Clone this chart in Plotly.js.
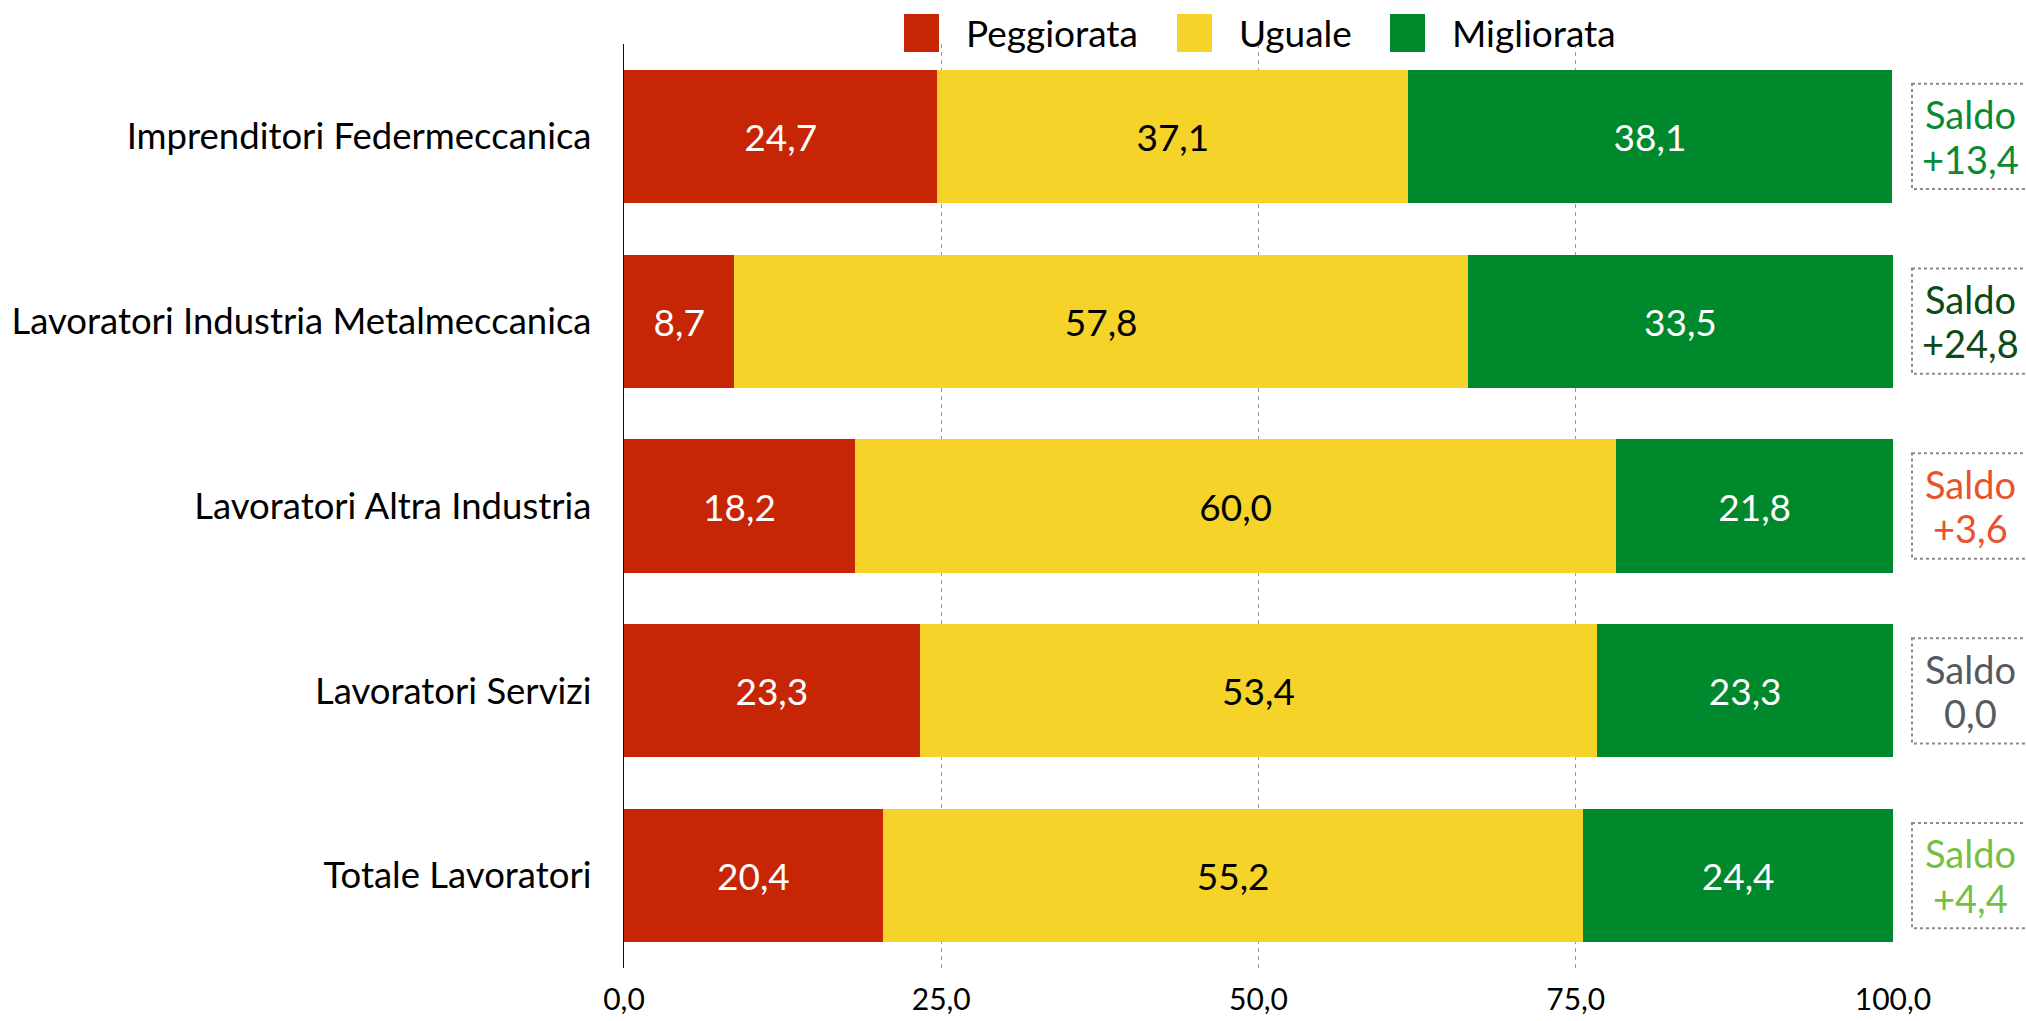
<!DOCTYPE html>
<html>
<head>
<meta charset="utf-8">
<script src="https://cdn.plot.ly/plotly-3.0.1.min.js"></script>
<style>html,body{margin:0;padding:0;background:#fff;}#chart{width:2026px;height:1021px;}</style>
</head>
<body>
<div id="chart"></div>
<script>
const categories = [
  "Imprenditori Federmeccanica",
  "Lavoratori Industria Metalmeccanica",
  "Lavoratori Altra Industria",
  "Lavoratori Servizi",
  "Totale Lavoratori"
];
const seriesNames = ["Peggiorata", "Uguale", "Migliorata"];
const peggiorata = [24.7, 8.7, 18.2, 23.3, 20.4];
const uguale = [37.1, 57.8, 60.0, 53.4, 55.2];
const migliorata = [38.1, 33.5, 21.8, 23.3, 24.4];
const saldo = [13.4, 24.8, 3.6, 0.0, 4.4];
const tickValues = [0, 25, 50, 75, 100];

const seriesColors = ["#c62506", "#f5d329", "#00882c"];
const textColors = ["#ffffff", "#000000", "#ffffff"];
const saldoColors = ["#0a8a34", "#0c4a16", "#e8522c", "#555a61", "#74bf44"];
const FONT = "Lato, 'Open Sans', sans-serif";

const seriesValues = [peggiorata, uguale, migliorata];
const traces = seriesValues.map((vals, i) => ({
  type: "bar",
  orientation: "h",
  name: seriesNames[i],
  x: vals,
  y: categories,
  marker: {color: seriesColors[i], line: {width: 0}},
  texttemplate: "%{x:.1f}",
  textposition: "inside",
  insidetextanchor: "middle",
  constraintext: "none",
  textfont: {family: FONT, size: 37, color: textColors[i]},
  hoverinfo: "x+y+name",
  showlegend: false
}));

function fmtSaldo(v) {
  return (v > 0 ? "+" : "") + v.toFixed(1).replace(".", ",");
}

// plot-area geometry in pixels (for converting overlay positions to paper units)
const PL = 624, PW = 1269, PT = 44, PH = 924;
const px2x = p => (p - PL) / PW;
const px2y = p => (PT + PH - p) / PH;

const shapes = [];
const annotations = [];
// Saldo boxes
categories.forEach((c, i) => {
  shapes.push({
    type: "rect", xref: "paper", yref: "y",
    x0: px2x(1912), x1: 1.2, y0: i - 0.285, y1: i + 0.285,
    line: {color: "#8a8a8a", width: 2, dash: "dot"},
    fillcolor: "rgba(0,0,0,0)"
  });
  annotations.push({
    xref: "paper", yref: "y", x: px2x(1970), y: i - 0.12,
    text: "Saldo",
    showarrow: false, xanchor: "center", yanchor: "middle",
    font: {family: FONT, size: 38, color: saldoColors[i]}
  });
  annotations.push({
    xref: "paper", yref: "y", x: px2x(1970), y: i + 0.12,
    text: fmtSaldo(saldo[i]),
    showarrow: false, xanchor: "center", yanchor: "middle",
    font: {family: FONT, size: 38, color: saldoColors[i]}
  });
});

// Manual legend (large square swatches)
const legendSwatchPx = [904, 1177, 1390];
seriesNames.forEach((n, i) => {
  const x0 = legendSwatchPx[i];
  shapes.push({
    type: "rect", xref: "paper", yref: "paper",
    x0: px2x(x0), x1: px2x(x0 + 35), y0: px2y(52), y1: px2y(14),
    line: {width: 0}, fillcolor: seriesColors[i]
  });
  annotations.push({
    xref: "paper", yref: "paper", x: px2x(x0 + 60), y: px2y(32),
    text: n, showarrow: false, xanchor: "left", yanchor: "middle",
    font: {family: FONT, size: 37, color: "#000"}
  });
});

const layout = {
  width: 2026, height: 1021,
  margin: {l: PL, r: 2026 - PL - PW, t: PT, b: 1021 - PT - PH, pad: 0},
  paper_bgcolor: "#fff", plot_bgcolor: "#fff",
  barmode: "stack",
  bargap: 0.28,
  separators: ",.",
  showlegend: false,
  font: {family: FONT, color: "#000"},
  xaxis: {
    range: [0, 100],
    tickvals: tickValues,
    tickformat: ".1f",
    ticks: "",
    showgrid: true,
    gridcolor: "#9a9a9a",
    griddash: "4px,4px",
    gridwidth: 1,
    zeroline: false,
    showline: false,
    ticklabelstandoff: 11,
    tickfont: {family: FONT, size: 30, color: "#000"}
  },
  yaxis: {
    type: "category",
    autorange: "reversed",
    showline: true,
    linecolor: "#111",
    linewidth: 1.2,
    ticks: "",
    showgrid: false,
    zeroline: false,
    ticklabelstandoff: 24,
    tickfont: {family: FONT, size: 36.5, color: "#000"}
  },
  shapes: shapes,
  annotations: annotations
};

Plotly.newPlot("chart", traces, layout, {displayModeBar: false, staticPlot: true});
</script>
</body>
</html>
